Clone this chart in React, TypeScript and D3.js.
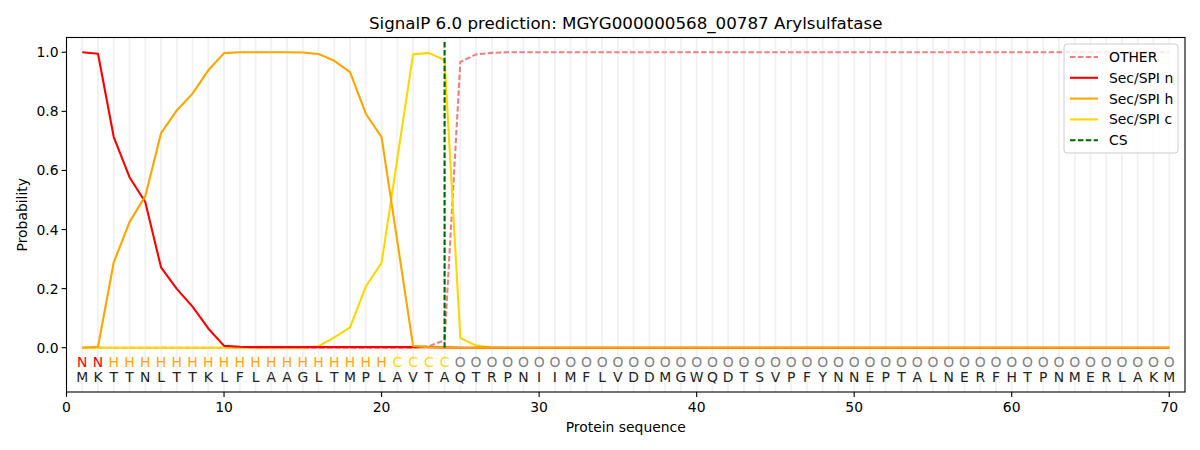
import { useRef, useEffect } from "react"
import * as d3 from "d3"

// amino acid sequence and predicted region per residue
const sequence = "MKTTNLTTKLFLAAGLTMPLAVTAQTRPNIIMFLVDDMGWQDTSVPFYNNEPTALNERFHTPNMERLAKM".split("")
const regions = "NNHHHHHHHHHHHHHHHHHHCCCCOOOOOOOOOOOOOOOOOOOOOOOOOOOOOOOOOOOOOOOOOOOOOO".split("")

const other = [
  0, 0, 0, 0, 0, 0, 0, 0, 0, 0, 0, 0, 0, 0, 0, 0, 0, 0, 0, 0, 0, 0, 0.005, 0.025, 0.967, 0.993, 0.998, 1, 1, 1,
  1, 1, 1, 1, 1, 1, 1, 1, 1, 1, 1, 1, 1, 1, 1, 1, 1, 1, 1, 1, 1, 1, 1, 1, 1, 1, 1, 1, 1, 1,
  1, 1, 1, 1, 1, 1, 1, 1, 1, 1,
]
const secN = [
  1.0, 0.995, 0.713, 0.577, 0.493, 0.272, 0.199, 0.139, 0.065, 0.006, 0.003, 0.002, 0.002, 0.002, 0.002, 0.002, 0.002, 0.002, 0.002, 0.002,
  0.002, 0.002, 0.002, 0.001, 0, 0, 0, 0, 0, 0, 0, 0, 0, 0, 0, 0, 0, 0, 0, 0,
  0, 0, 0, 0, 0, 0, 0, 0, 0, 0, 0, 0, 0, 0, 0, 0, 0, 0, 0, 0, 0, 0, 0, 0, 0, 0, 0, 0, 0, 0,
]
const secH = [
  0, 0.003, 0.289, 0.425, 0.513, 0.726, 0.803, 0.86, 0.939, 0.997, 1.0, 1.0, 1.0, 1.0, 0.999, 0.994, 0.971, 0.933, 0.792, 0.713,
  0.36, 0.006, 0.002, 0.001, 0, 0, 0, 0, 0, 0, 0, 0, 0, 0, 0, 0, 0, 0, 0, 0,
  0, 0, 0, 0, 0, 0, 0, 0, 0, 0, 0, 0, 0, 0, 0, 0, 0, 0, 0, 0, 0, 0, 0, 0, 0, 0, 0, 0, 0, 0,
]
const secC = [
  0, 0, 0, 0, 0, 0, 0, 0, 0, 0, 0, 0, 0, 0, 0, 0.005, 0.035, 0.069, 0.207, 0.287,
  0.64, 0.993, 0.998, 0.973, 0.033, 0.007, 0.001, 0, 0, 0, 0, 0, 0, 0, 0, 0, 0, 0, 0, 0,
  0, 0, 0, 0, 0, 0, 0, 0, 0, 0, 0, 0, 0, 0, 0, 0, 0, 0, 0, 0, 0, 0, 0, 0, 0, 0, 0, 0, 0, 0,
]
const cleavageSite = 24
const xTicks = [0, 10, 20, 30, 40, 50, 60, 70]
const yTicks = [0, 0.2, 0.4, 0.6, 0.8, 1.0]

const regionColor: Record<string, string> = { N: "#ff0000", H: "#ffa500", C: "#ffd700", O: "#808080" }

// drawn in this order so the zero line looks like the reference
const series = [
  { name: "OTHER", values: other, color: "#f08080", dash: "5.5,2.4" },
  { name: "Sec/SPI c", values: secC, color: "#ffd700", dash: null },
  { name: "Sec/SPI n", values: secN, color: "#ff0000", dash: null },
  { name: "Sec/SPI h", values: secH, color: "#ffa500", dash: null },
]
const legendItems = [
  { name: "OTHER", color: "#f08080", dash: "5.5,2.4" },
  { name: "Sec/SPI n", color: "#ff0000", dash: null },
  { name: "Sec/SPI h", color: "#ffa500", dash: null },
  { name: "Sec/SPI c", color: "#ffd700", dash: null },
  { name: "CS", color: "#006400", dash: "5.5,2.4" },
]

export default function App() {
  const svgRef = useRef<SVGSVGElement>(null)

  useEffect(() => {
    if (!svgRef.current) return
    const svg = d3.select(svgRef.current)
    svg.selectAll("*").remove()

    const left = 66.5
    const right = 1185
    const top = 37.5
    const bottom = 392
    const font = "DejaVu Sans, sans-serif"

    const x = d3.scaleLinear().domain([0, 71]).range([left, right])
    const y = d3.scaleLinear().domain([-0.15, 1.05]).range([bottom, top])
    const positions = sequence.map((_, i) => i + 1)

    svg.append("rect").attr("width", 1200).attr("height", 450).attr("fill", "white")

    // vertical grid at each residue
    svg
      .append("g")
      .selectAll("line")
      .data(positions)
      .enter()
      .append("line")
      .attr("x1", (d) => x(d))
      .attr("x2", (d) => x(d))
      .attr("y1", top)
      .attr("y2", bottom)
      .attr("stroke", "#f1f1f1")
      .attr("stroke-width", 1.8)

    // region labels and residues
    const letters = svg.append("g").style("font-family", font).style("font-size", "13.9px").attr("text-anchor", "middle")
    letters
      .selectAll(".reg")
      .data(regions)
      .enter()
      .append("text")
      .attr("x", (_, i) => x(i + 1))
      .attr("y", y(-0.05) + 5)
      .attr("fill", (d) => regionColor[d])
      .text((d) => d)
    letters
      .selectAll(".aa")
      .data(sequence)
      .enter()
      .append("text")
      .attr("x", (_, i) => x(i + 1))
      .attr("y", y(-0.1) + 5)
      .attr("fill", "#222")
      .text((d) => d)

    // probability curves
    const line = d3
      .line<number>()
      .x((_, i) => x(i + 1))
      .y((d) => y(d))
    series.forEach((s) => {
      svg
        .append("path")
        .datum(s.values)
        .attr("d", line)
        .attr("fill", "none")
        .attr("stroke", s.color)
        .attr("stroke-width", 2.1)
        .attr("stroke-dasharray", s.dash)
        .attr("stroke-linejoin", "round")
    })

    // cleavage site
    svg
      .append("line")
      .attr("x1", x(cleavageSite))
      .attr("x2", x(cleavageSite))
      .attr("y1", y(0))
      .attr("y2", y(1.036))
      .attr("stroke", "#006400")
      .attr("stroke-width", 2.1)
      .attr("stroke-dasharray", "5.5,2.4")

    // frame
    svg
      .append("rect")
      .attr("x", left)
      .attr("y", top)
      .attr("width", right - left)
      .attr("height", bottom - top)
      .attr("fill", "none")
      .attr("stroke", "black")
      .attr("stroke-width", 1.1)

    // x axis
    const xAxis = svg.append("g").style("font-family", font).style("font-size", "13.9px")
    xTicks.forEach((t) => {
      xAxis.append("line").attr("x1", x(t)).attr("x2", x(t)).attr("y1", bottom).attr("y2", bottom + 4.9).attr("stroke", "black").attr("stroke-width", 1.1)
      xAxis.append("text").attr("x", x(t)).attr("y", bottom + 20).attr("text-anchor", "middle").text(t)
    })
    xAxis.append("text").attr("x", (left + right) / 2).attr("y", 432).attr("text-anchor", "middle").text("Protein sequence")

    // y axis
    const yAxis = svg.append("g").style("font-family", font).style("font-size", "13.9px")
    yTicks.forEach((t) => {
      yAxis.append("line").attr("x1", left - 4.9).attr("x2", left).attr("y1", y(t)).attr("y2", y(t)).attr("stroke", "black").attr("stroke-width", 1.1)
      yAxis.append("text").attr("x", left - 8).attr("y", y(t) + 5).attr("text-anchor", "end").text(t.toFixed(1))
    })
    yAxis
      .append("text")
      .attr("transform", `translate(27,${(top + bottom) / 2}) rotate(-90)`)
      .attr("text-anchor", "middle")
      .text("Probability")

    // title
    svg
      .append("text")
      .attr("x", (left + right) / 2)
      .attr("y", 29)
      .attr("text-anchor", "middle")
      .style("font-family", font)
      .style("font-size", "16.7px")
      .text("SignalP 6.0 prediction: MGYG000000568_00787 Arylsulfatase")

    // legend
    const lg = svg.append("g").style("font-family", font).style("font-size", "13.9px")
    lg.append("rect")
      .attr("x", 1064)
      .attr("y", 44)
      .attr("width", 114)
      .attr("height", 109)
      .attr("rx", 3)
      .attr("fill", "white")
      .attr("fill-opacity", 0.8)
      .attr("stroke", "#cccccc")
    legendItems.forEach((item, i) => {
      const ly = 57 + i * 20.8
      lg.append("line")
        .attr("x1", 1070)
        .attr("x2", 1098)
        .attr("y1", ly)
        .attr("y2", ly)
        .attr("stroke", item.color)
        .attr("stroke-width", 2.1)
        .attr("stroke-dasharray", item.dash)
      lg.append("text").attr("x", 1109).attr("y", ly + 5).text(item.name)
    })
  }, [])

  return (
    <svg ref={svgRef} width={1200} height={450} style={{ position: "absolute", left: 0, top: 0 }} />
  )
}
